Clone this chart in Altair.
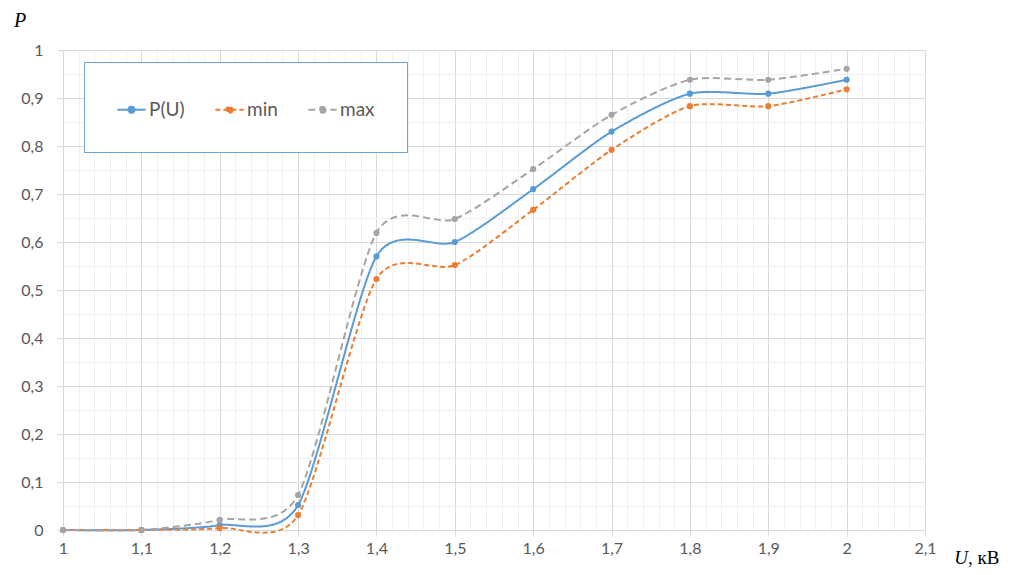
import altair as alt
import pandas as pd

U = [1.0, 1.1, 1.2, 1.3, 1.4, 1.5, 1.6, 1.7, 1.8, 1.9, 2.0]
P_U = [0.0, 0.0, 0.010, 0.052, 0.570, 0.600, 0.710, 0.830, 0.909, 0.909, 0.938]
P_min = [0.0, 0.0, 0.004, 0.031, 0.523, 0.552, 0.667, 0.792, 0.883, 0.883, 0.918]
P_max = [0.0, 0.0, 0.021, 0.073, 0.619, 0.648, 0.752, 0.865, 0.938, 0.938, 0.961]
series_names = ["P(U)", "min", "max"]
series_colors = ["#5b9bd5", "#ed7d31", "#a5a5a5"]
series_dash = [[1, 0], [5, 3], [7, 4]]

rows = []
for name, vals in zip(series_names, [P_U, P_min, P_max]):
    for u, p in zip(U, vals):
        rows.append({"U": u, "P": p, "series": name})
df = pd.DataFrame(rows)

x_ticks = [round(1.0 + 0.02 * i, 2) for i in range(56)]
y_ticks = [round(0.05 * i, 2) for i in range(21)]

FONT = "Lato"
LABEL_COLOR = "#595959"
MAJOR = "#d9d9d9"
MINOR = "#f0f0f0"

x_major = "round(datum.value*50) % 5 == 0"
y_major = "round(datum.value*20) % 2 == 0"

x_axis = alt.Axis(
    values=x_ticks, title=None, grid=True,
    gridColor={"condition": {"test": x_major, "value": MAJOR}, "value": MINOR},
    tickColor={"condition": {"test": x_major, "value": MAJOR}, "value": "transparent"},
    tickSize=6, domainColor=MAJOR, labelColor=LABEL_COLOR, labelFont=FONT,
    labelFontSize=16, labelPadding=4, labelFlush=False, labelOverlap=False,
    labelExpr=f"{x_major} ? replace(format(datum.value, '.1~f'), '.', ',') : ''",
)
y_axis = alt.Axis(
    values=y_ticks, title=None, grid=True,
    gridColor={"condition": {"test": y_major, "value": MAJOR}, "value": MINOR},
    tickColor={"condition": {"test": y_major, "value": MAJOR}, "value": "transparent"},
    tickSize=6, domainColor=MAJOR, labelColor=LABEL_COLOR, labelFont=FONT,
    labelFontSize=16, labelPadding=14, labelOverlap=False,
    labelExpr=f"{y_major} ? replace(format(datum.value, '.1~f'), '.', ',') : ''",
)

legend = alt.Legend(
    title=None, orient="none", legendX=21, legendY=12, direction="horizontal",
    strokeColor="#6fa0d8", fillColor="white", padding=32, cornerRadius=0,
    symbolType="M-1,0L1,0M0.22,0A0.22,0.22 0 1,1 -0.22,0A0.22,0.22 0 1,1 0.22,0Z",
    symbolSize=800, symbolStrokeWidth=2,
    labelFont=FONT, labelFontSize=19, labelColor=LABEL_COLOR, labelOffset=2,
    columnPadding=26,
)

xenc = alt.X("U:Q", scale=alt.Scale(domain=[1.0, 2.1], nice=False, zero=False), axis=x_axis)
yenc = alt.Y("P:Q", scale=alt.Scale(domain=[0, 1], nice=False), axis=y_axis)
cscale = alt.Scale(domain=series_names, range=series_colors)

base = alt.Chart(df)
lines = base.mark_line(interpolate="cardinal", tension=0.25, strokeWidth=2).encode(
    x=xenc, y=yenc,
    stroke=alt.Stroke("series:N", scale=cscale, legend=legend, sort=series_names),
    strokeDash=alt.StrokeDash("series:N", scale=alt.Scale(domain=series_names, range=series_dash),
                              legend=legend, sort=series_names),
)
points = base.mark_circle(size=38, opacity=1).encode(
    x=xenc, y=yenc,
    fill=alt.Fill("series:N", scale=cscale, legend=legend, sort=series_names),
)

p_title = alt.Chart(pd.DataFrame({"t": ["P"]})).mark_text(
    font="Liberation Serif", fontStyle="italic", fontSize=20, color="#000000",
    align="center", baseline="middle").encode(
    text="t:N", x=alt.value(-43), y=alt.value(-29))
u_title = alt.Chart(pd.DataFrame({"t": ["U"]})).mark_text(
    font="Liberation Serif", fontStyle="italic", fontSize=19, color="#000000",
    align="right", baseline="alphabetic").encode(
    text="t:N", x=alt.value(905), y=alt.value(480 + 34))
kv_title = alt.Chart(pd.DataFrame({"t": [", кВ"]})).mark_text(
    font="Liberation Serif", fontSize=19, color="#000000",
    align="left", baseline="alphabetic").encode(
    text="t:N", x=alt.value(905), y=alt.value(480 + 34))

chart = alt.layer(lines, points, p_title, u_title, kv_title).properties(
    width=862, height=480,
    autosize=alt.AutoSizeParams(type="none"),
    padding={"left": 55, "top": 42, "right": 78, "bottom": 37},
    background="white",
).configure_view(stroke=None)

chart.save("out.html", embed_options={"renderer": "svg", "actions": False})
